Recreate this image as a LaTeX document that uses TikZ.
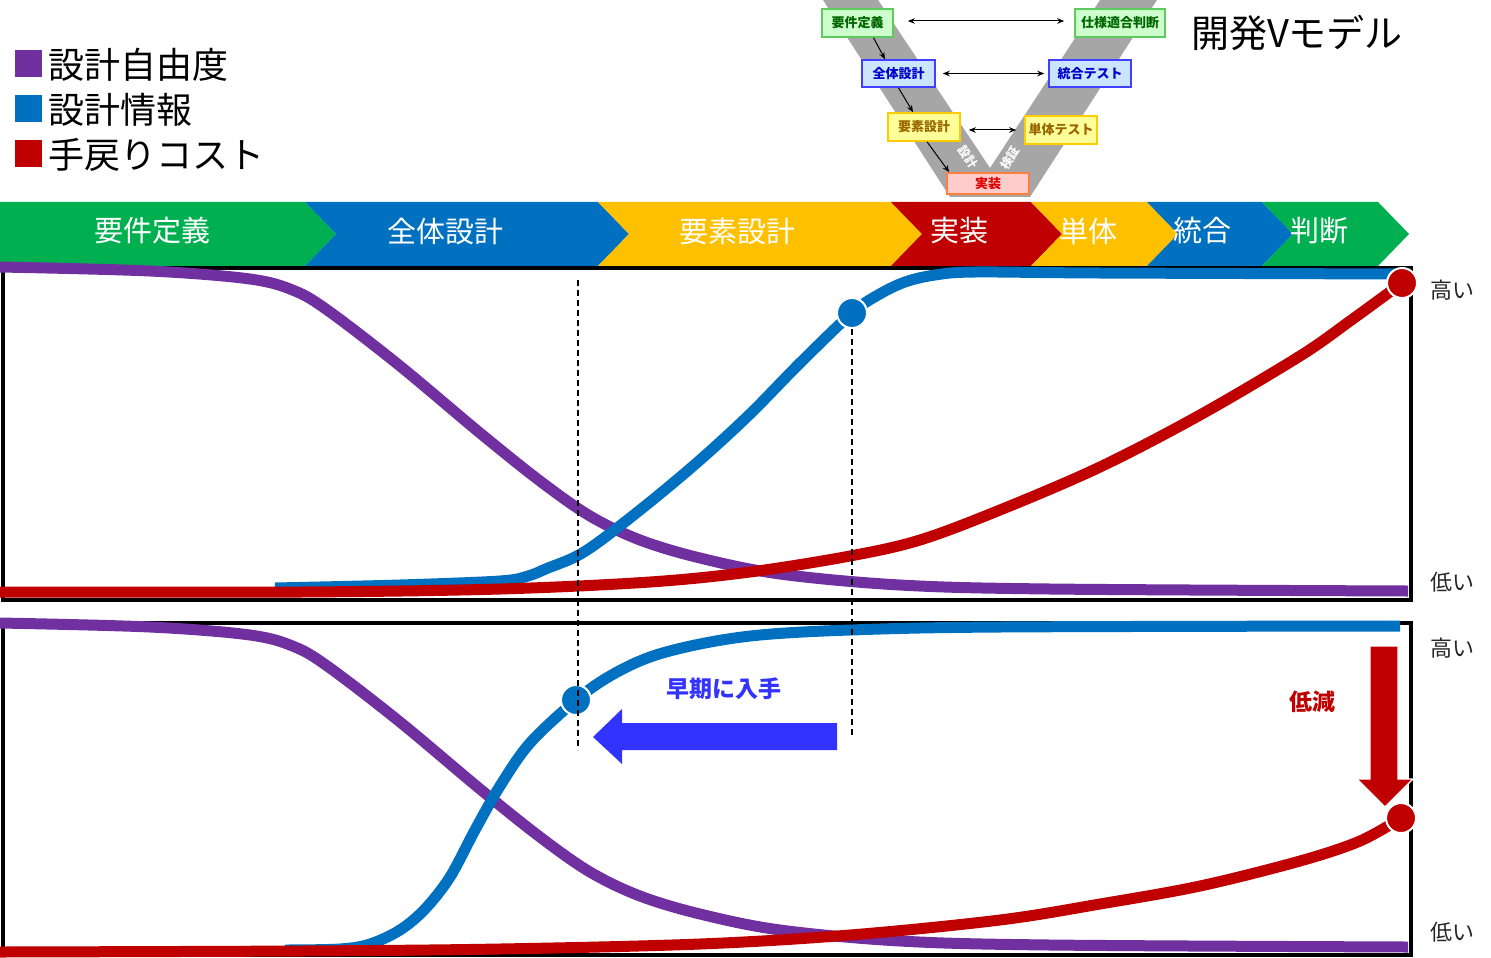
\documentclass[tikz,border=0pt]{standalone}
\usepackage{fontspec}
\setmainfont{Noto Sans CJK JP}
\usetikzlibrary{arrows.meta,calc}

\definecolor{cpurple}{HTML}{7030A0}
\definecolor{cblue}{HTML}{0070C0}
\definecolor{cred}{HTML}{C00000}
\definecolor{cgreen}{HTML}{00B050}
\definecolor{cyellow}{HTML}{FFC000}
\definecolor{arrowblue}{HTML}{3333FF}
\definecolor{vgray}{HTML}{A6A6A6}
\definecolor{lbltext}{HTML}{262626}
% V-model box colours
\definecolor{vgfill}{HTML}{CCFFCC}\definecolor{vgdraw}{HTML}{5CCB5C}\definecolor{vgtext}{HTML}{006600}
\definecolor{vbfill}{HTML}{CCE5FF}\definecolor{vbdraw}{HTML}{4040FF}\definecolor{vbtext}{HTML}{0000CC}
\definecolor{vyfill}{HTML}{FFFF99}\definecolor{vydraw}{HTML}{FFCC00}\definecolor{vytext}{HTML}{996600}
\definecolor{vpfill}{HTML}{FFCCCC}\definecolor{vpdraw}{HTML}{FF7F3F}\definecolor{vptext}{HTML}{E00000}

\tikzset{
  legendbox/.style={fill=#1, draw=none, minimum size=13.5pt, inner sep=0pt},
  legendtext/.style={anchor=west, inner sep=0pt, font=\fontsize{18}{20}\selectfont},
  bandtext/.style={text=white, inner sep=0pt, font=\fontsize{14.5}{16}\selectfont},
  levtext/.style={text=lbltext, inner sep=0pt, font=\fontsize{11}{12}\selectfont},
  vbox/.style n args={3}{fill=#1, draw=#2, text=#3, line width=0.8pt, inner sep=0pt,
     minimum height=14pt, font=\bfseries\fontsize{6.5}{7}\selectfont},
  armtext/.style={text=white, inner sep=0pt, font=\bfseries\fontsize{6}{6.5}\selectfont},
  varrow/.style={draw=black, line width=0.5pt, -{Stealth[length=3.5pt,width=2.8pt]}},
  vdarrow/.style={draw=black, line width=0.5pt, {Stealth[length=3.5pt,width=2.8pt]}-{Stealth[length=3.5pt,width=2.8pt]}},
  frame/.style={draw=black, line width=2pt},
  curve/.style={line width=5.5pt, line join=round},
  dot/.style={circle, fill=#1, draw=white, line width=1pt, minimum size=15pt, inner sep=0pt},
  dashline/.style={draw=black, line width=0.7pt, dash pattern=on 3pt off 2pt},
}

\begin{document}
\begin{tikzpicture}[x=0.5pt,y=-0.5pt]
\useasboundingbox (0,0) rectangle (1491,957);

% ---------------- legend ----------------
\node[legendbox=cpurple] (lg1) at (28,64) {};
\node[legendbox=cblue]   (lg2) at (28,109) {};
\node[legendbox=cred]    (lg3) at (28,154) {};
\node[legendtext] (lt1) at (48,65)  {設計自由度};
\node[legendtext] (lt2) at (48,110) {設計情報};
\node[legendtext] (lt3) at (48,155) {手戻りコスト};

% ---------------- V model ----------------
\fill[vgray] (823,0) -- (878,0) -- (990,168) -- (1100,0) -- (1157,0) -- (1030,197) -- (950,197) -- cycle;
\node[armtext, rotate=-57] (vdesign) at (968,157) {設計};
\node[armtext, rotate=57]  (vverify) at (1010,158) {検証};

\node[vbox={vgfill}{vgdraw}{vgtext}, minimum width=35.5pt] (req)   at (857.5,23)   {要件定義};
\node[vbox={vgfill}{vgdraw}{vgtext}, minimum width=45pt]   (spec)  at (1120,23)    {仕様適合判断};
\node[vbox={vbfill}{vbdraw}{vbtext}, minimum width=36.5pt, minimum height=13.5pt] (sys)   at (898.5,73.5) {全体設計};
\node[vbox={vbfill}{vbdraw}{vbtext}, minimum width=41pt, minimum height=13.5pt]   (integ) at (1090,73.5)  {統合テスト};
\node[vbox={vyfill}{vydraw}{vytext}, minimum width=36pt]   (elem)  at (924,127)    {要素設計};
\node[vbox={vyfill}{vydraw}{vytext}, minimum width=36pt]   (unit)  at (1061,130)   {単体テスト};
\node[vbox={vpfill}{vpdraw}{vptext}, minimum width=41pt, minimum height=10.5pt] (impl) at (988,183.5) {実装};

\draw[varrow] ([xshift=8pt]req.south) -- ([xshift=-6.75pt]sys.north);
\draw[varrow] (sys.south) -- ([xshift=-5.5pt]elem.north);
\draw[varrow] ([xshift=1.5pt]elem.south) -- ([xshift=1.5pt]impl.north west);
\draw[vdarrow, shorten <=7pt, shorten >=5pt] ([yshift=1pt]req.east) -- ([yshift=1pt]spec.west);
\draw[vdarrow, shorten <=3.5pt, shorten >=2pt] (sys.east) -- (integ.west);
\draw[vdarrow, shorten <=4pt, shorten >=4pt] (elem.east |- unit.west) -- (unit.west);

\node[inner sep=0pt, font=\fontsize{19}{21}\selectfont] (title) at (1297,33) {開発Vモデル};

% ---------------- phase band ----------------
\fill[cgreen]  (0,202) -- (305,202) -- (336,234) -- (305,266) -- (0,266) -- cycle;
\fill[cblue]   (305,202) -- (598,202) -- (629,234) -- (598,266) -- (305,266) -- (336,234) -- cycle;
\fill[cyellow] (598,202) -- (891,202) -- (922,234) -- (891,266) -- (598,266) -- (629,234) -- cycle;
\fill[cred]    (891,202) -- (1031,202) -- (1062,234) -- (1031,266) -- (891,266) -- (922,234) -- cycle;
\fill[cyellow] (1031,202) -- (1147,202) -- (1178,234) -- (1147,266) -- (1031,266) -- (1062,234) -- cycle;
\fill[cblue]   (1147,202) -- (1262,202) -- (1293,234) -- (1262,266) -- (1147,266) -- (1178,234) -- cycle;
\fill[cgreen]  (1262,202) -- (1378,202) -- (1409,234) -- (1378,266) -- (1262,266) -- (1293,234) -- cycle;
\node[bandtext] (b1) at (152,231)  {要件定義};
\node[bandtext] (b2) at (445,231)  {全体設計};
\node[bandtext] (b3) at (737,231)  {要素設計};
\node[bandtext] (b4) at (959,231)  {実装};
\node[bandtext] (b5) at (1088,231) {単体};
\node[bandtext] (b6) at (1202,231) {統合};
\node[bandtext] (b7) at (1319,231) {判断};

% ---------------- panel frames ----------------
\draw[frame] (3,268) rectangle (1411,600);
\draw[frame] (3,623) rectangle (1411,955);

\node[levtext] (hi1) at (1452,290) {高い};
\node[levtext] (lo1) at (1452,582) {低い};
\node[levtext] (hi2) at (1452,648) {高い};
\node[levtext] (lo2) at (1452,932) {低い};

% ---------------- upper panel curves ----------------
\draw[curve, cpurple] plot[smooth, tension=0.55] coordinates {
  (0,267) (150,271) (250,279) (295,291) (330,312) (400,366) (480,433) (540,481)
  (590,516) (640,540) (700,558) (780,574) (900,585) (1050,589) (1408,591)};
\draw[curve, cblue] plot[smooth, tension=0.55] coordinates {
  (275,588) (400,585) (500,581) (528,576) (548,568) (575,557) (600,541) (650,502)
  (700,460) (750,414) (800,363) (852,313) (878,295) (905,282) (935,275) (975,272) (1100,273) (1410,274)};
\draw[curve, cred] plot[smooth, tension=0.55] coordinates {
  (0,592) (300,592) (500,589) (650,582) (750,572) (850,556) (920,540) (1000,510)
  (1100,467) (1200,415) (1300,356) (1350,321) (1402,283)};
\node[dot=cblue] (ubdot) at (852,313) {};
\node[dot=cred]  (urdot) at (1402,283) {};

% ---------------- lower panel curves ----------------
\draw[curve, cpurple] plot[smooth, tension=0.55] coordinates {
  (0,623) (150,627) (250,635) (295,647) (330,668) (400,722) (480,789) (540,837)
  (590,872) (640,896) (700,914) (780,930) (900,941) (1050,945) (1408,947)};
\draw[curve, cblue] plot[smooth, tension=0.55] coordinates {
  (285,950) (340,949) (370,944) (400,930) (425,909) (450,877) (475,830) (500,786)
  (530,743) (576,700) (610,676) (650,657) (700,644) (760,635) (850,630) (1000,627) (1400,626)};
\draw[curve, cred] plot[smooth, tension=0.55] coordinates {
  (0,952) (300,951) (500,949) (700,944) (850,935) (1000,920) (1100,904) (1200,886)
  (1300,861) (1360,841) (1401,818)};
\node[dot=cblue] (lbdot) at (576,700) {};

% ---------------- guide lines ----------------
\coordinate (dashtopA) at (578,280);
\coordinate (dashbotA) at (578,750);
\coordinate (dashbotB) at (852,735);
\draw[dashline] (dashtopA) -- (dashbotA);
\draw[dashline] (ubdot.south) -- (ubdot |- dashbotB);

% ---------------- annotations ----------------
\fill[arrowblue] (837,723) -- (622,723) -- (622,709) -- (593,737) -- (622,764) -- (622,750) -- (837,750) -- cycle;
\node[text=arrowblue, inner sep=0pt, font=\bfseries\fontsize{11.5}{13}\selectfont] (early) at (724,689) {早期に入手};

\filldraw[fill=cred, draw=white, line width=0.6pt] (1370,646) -- (1398,646) -- (1398,779) -- (1413,779) -- (1385,807) -- (1357,779) -- (1370,779) -- cycle;
\node[text=cred, inner sep=0pt, font=\bfseries\fontsize{11.5}{13}\selectfont] (reduce) at (1312,702) {低減};
\node[dot=cred] (lrdot) at (1401,818) {};

\end{tikzpicture}
\end{document}
